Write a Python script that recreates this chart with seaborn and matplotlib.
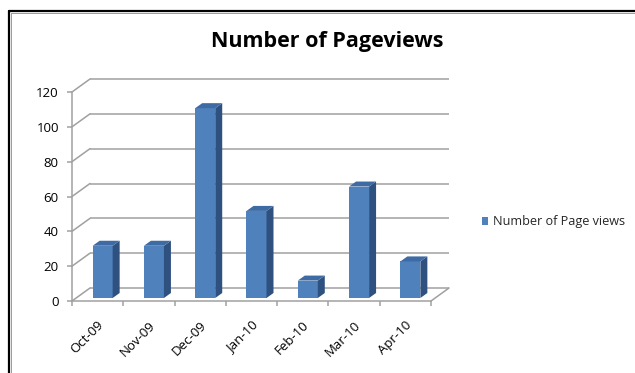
import matplotlib
matplotlib.use("Agg")
import matplotlib.pyplot as plt
from matplotlib.patches import Polygon, Patch
from matplotlib.lines import Line2D
from matplotlib.transforms import ScaledTranslation
import seaborn as sns
import pandas as pd

months = ["Oct-09", "Nov-09", "Dec-09", "Jan-10", "Feb-10", "Mar-10", "Apr-10"]
pageviews = [30, 30, 109, 50, 10, 64, 21]
series_name = "Number of Page views"
title = "Number of Pageviews"
y_ticks = [0, 20, 40, 60, 80, 100, 120]

df = pd.DataFrame({"month": months, "views": pageviews})

sns.set_theme(style="white")
plt.rcParams["font.family"] = ["Open Sans", "DejaVu Sans"]

W, H = 635, 373
fig = plt.figure(figsize=(W / 100, H / 100), dpi=100)
fig.patch.set_facecolor("white")

# front plane of the pseudo-3D box (pixels)
x_left, x_right, y_zero, y_top = 72, 431, 301, 92
ax = fig.add_axes([x_left / W, 1 - y_zero / H, (x_right - x_left) / W, (y_zero - y_top) / H])
ax.set_facecolor("none")

front = "#4F81BD"
side = "#2F5180"
topc = "#3E6BA3"
grid = "#A0A0A0"

sns.barplot(data=df, x="month", y="views", color=front, width=0.39,
            saturation=1, ax=ax, zorder=3, linewidth=0)
ax.set_xlim(-0.5, len(months) - 0.5)
ax.set_ylim(0, 120)

ppx = (x_right - x_left) / len(months)   # pixels per category
ppy = (y_zero - y_top) / 120.0           # pixels per unit

# wall depth
wdx, wdy = 18 / ppx, 13 / ppy
# bar offset and depth
bdx, bdy = 5 / ppx, 3 / ppy
ddx, ddy = 7 / ppx, 5 / ppy

for p in list(ax.patches):
    p.set_x(p.get_x() + bdx)
    p.set_y(bdy)
    x0 = p.get_x(); x1 = x0 + p.get_width()
    y0 = bdy; y1 = bdy + p.get_height()
    ax.add_patch(Polygon([(x1, y0), (x1, y1), (x1 + ddx, y1 + ddy), (x1 + ddx, y0 + ddy)],
                         closed=True, facecolor=side, edgecolor="none", zorder=3, clip_on=False))
    ax.add_patch(Polygon([(x0, y1), (x1, y1), (x1 + ddx, y1 + ddy), (x0 + ddx, y1 + ddy)],
                         closed=True, facecolor=topc, edgecolor="none", zorder=3, clip_on=False))

xl, xr = -0.5, len(months) - 0.5
lw = 1.1
for v in y_ticks:
    ax.plot([xl + wdx, xr + wdx], [v + wdy, v + wdy], color=grid, lw=lw, zorder=1, clip_on=False,
            solid_capstyle="butt")
    ax.plot([xl, xl + wdx], [v, v + wdy], color=grid, lw=lw, zorder=1, clip_on=False)
# floor
ax.plot([xr, xr + wdx], [0, wdy], color=grid, lw=lw, zorder=1, clip_on=False)

for s in ["top", "right"]:
    ax.spines[s].set_visible(False)
for s in ["left", "bottom"]:
    ax.spines[s].set_color(grid)
    ax.spines[s].set_linewidth(lw)
    ax.spines[s].set_zorder(2)

ax.set_yticks(y_ticks)
ax.set_yticklabels([str(v) for v in y_ticks])
ax.tick_params(axis="y", left=True, length=3.5, width=lw, color=grid, pad=6,
               labelsize=9.5, labelcolor="#000000")
ax.set_xticks([i - 0.5 for i in range(len(months) + 1)], minor=False)
ax.set_xticklabels([""] * (len(months) + 1))
ax.tick_params(axis="x", bottom=True, length=3.5, width=lw, color=grid)
ax.set_xticks(range(len(months)), minor=True)
ax.set_xticklabels(months, minor=True, rotation=45, ha="right", va="center",
                   rotation_mode="anchor")
ax.tick_params(axis="x", which="minor", bottom=False, length=0, pad=16, labelsize=9.5,
               labelcolor="#000000")
shift = ScaledTranslation(4 / 100, 0, fig.dpi_scale_trans)
for lab in ax.get_xticklabels(minor=True):
    lab.set_transform(lab.get_transform() + shift)
ax.set_xlabel("")
ax.set_ylabel("")
ax.grid(False)

fig.text(327 / W, 1 - 42 / H, title, ha="center", va="center", fontsize=15.5,
         fontweight="bold", color="#000000")

fig.legend(handles=[Patch(facecolor=front, edgecolor="none", label=series_name)],
           loc="center left", bbox_to_anchor=(482 / W, 1 - 222 / H), frameon=False,
           handlelength=0.5, handleheight=0.5, handletextpad=0.4, borderpad=0,
           borderaxespad=0, fontsize=9.1)

# chart frame (top and left edges)
fig.add_artist(Line2D([8.5 / W, 1], [1 - 11 / H, 1 - 11 / H], color="black", lw=1.6,
                      transform=fig.transFigure))
fig.add_artist(Line2D([9 / W, 9 / W], [0, 1 - 11 / H], color="black", lw=1.6,
                      transform=fig.transFigure))
fig.add_artist(Line2D([11 / W, 1], [1 - 13 / H, 1 - 13 / H], color="#9a9a9a", lw=0.7,
                      transform=fig.transFigure))
fig.add_artist(Line2D([11 / W, 11 / W], [0, 1 - 13 / H], color="#9a9a9a", lw=0.7,
                      transform=fig.transFigure))

fig.savefig("out.png", dpi=100)
